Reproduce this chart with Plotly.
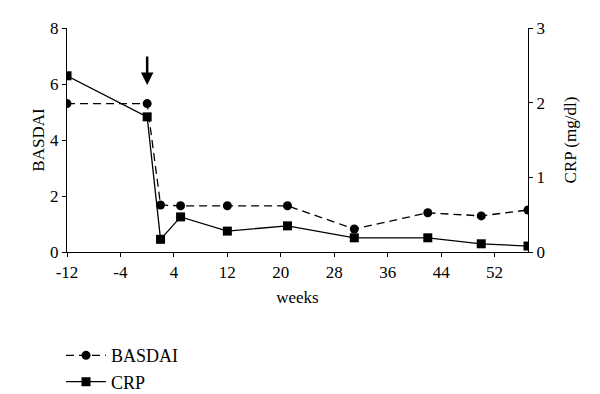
import plotly.graph_objects as go

weeks = [-12, 0, 2, 5, 12, 21, 31, 42, 50, 57]
basdai = [5.3, 5.3, 1.68, 1.65, 1.65, 1.65, 0.82, 1.4, 1.29, 1.5]
crp = [2.36, 1.81, 0.17, 0.47, 0.28, 0.35, 0.19, 0.19, 0.11, 0.08]
x_ticks = [-12, -4, 4, 12, 20, 28, 36, 44, 52]

FF = "Liberation Serif"
tf = dict(family=FF, size=17, color="black")
ttl = dict(family=FF, size=17, color="black")

fig = go.Figure()
fig.add_trace(go.Scatter(
    x=weeks, y=basdai, name="BASDAI", mode="lines+markers", legendgroup="a",
    line=dict(color="black", width=1.3, dash="8px,5px"),
    marker=dict(symbol="circle", size=9, color="black"),
    yaxis="y"))
fig.add_trace(go.Scatter(
    x=weeks, y=crp, name="CRP", mode="lines+markers", legendgroup="b",
    line=dict(color="black", width=1.3),
    marker=dict(symbol="square", size=9, color="black"),
    yaxis="y2"))

fig.add_annotation(x=0, y=5.96, ax=0, ay=7.04, xref="x", yref="y", axref="x", ayref="y",
                   showarrow=True, arrowhead=2, arrowsize=1, arrowwidth=2.5,
                   arrowcolor="black", text="")

fig.update_layout(
    width=592, height=386,
    margin=dict(l=59, r=72, t=20, b=142, autoexpand=False),
    paper_bgcolor="white", plot_bgcolor="white",
    font=dict(family=FF, size=17, color="black"),
    showlegend=True,
    legend=dict(x=-0.013, y=-0.38, xanchor="left", yanchor="top",
                orientation="v", font=dict(family=FF, size=18, color="black"),
                bgcolor="rgba(0,0,0,0)", tracegroupgap=0, itemwidth=40),
    xaxis=dict(range=[-12, 57], tickvals=x_ticks, ticktext=[str(v) for v in x_ticks],
               showline=True, linecolor="black", linewidth=1.3, ticks="outside",
               ticklen=4, tickcolor="black", showgrid=False, zeroline=False,
               title=dict(text="weeks", font=ttl, standoff=10),
               tickfont=tf),
    yaxis=dict(range=[0, 8], tickvals=[0, 2, 4, 6, 8], showline=True, linecolor="black",
               linewidth=1.3, ticks="outside", ticklen=4, tickcolor="black",
               showgrid=False, zeroline=False,
               title=dict(text="BASDAI", font=ttl, standoff=1),
               tickfont=tf),
    yaxis2=dict(range=[0, 3], tickvals=[0, 1, 2, 3], overlaying="y", side="right",
                showline=True, linecolor="black", linewidth=1.3, ticks="outside",
                ticklen=4, tickcolor="black", showgrid=False, zeroline=False,
                title=dict(text="CRP (mg/dl)", font=ttl, standoff=20),
                tickfont=tf),
)

fig.write_html("out.html")
